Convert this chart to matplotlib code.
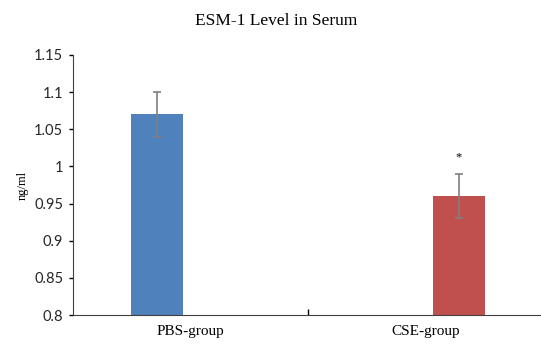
import numpy as np
import matplotlib
matplotlib.use("Agg")
import matplotlib.pyplot as plt

groups = ['PBS-group', 'CSE-group']
levels = [1.07, 0.96]
errors = [0.03, 0.03]
colors = ['#4F81BD', '#C0504D']
yticks = [0.8, 0.85, 0.9, 0.95, 1, 1.05, 1.1, 1.15]
ytick_labels = ['0.8', '0.85', '0.9', '0.95', '1', '1.05', '1.1', '1.15']

fig = plt.figure(figsize=(5.41, 3.47), dpi=100)
ax = fig.add_axes([0.135, 0.092, 0.868, 0.750])

x = np.arange(len(groups))
width = 0.22
offsets = [-0.143, 0.143]
for i in range(len(groups)):
    ax.bar(x[i] + offsets[i], levels[i] - 0.8, width, bottom=0.8, color=colors[i])
    ax.errorbar(x[i] + offsets[i], levels[i], yerr=errors[i], fmt='none',
                ecolor='#7f7f7f', elinewidth=1.2, capsize=3, capthick=1.2)
ax.text(x[1] + offsets[1], levels[1] + errors[1] + 0.022, '*', ha='center', va='center',
        fontsize=9, family='Liberation Serif')

ax.set_xlim(-0.5, 1.5)
ax.set_ylim(0.8, 1.15)
ax.set_yticks(yticks)
ax.set_yticklabels(ytick_labels, family='Lato', fontsize=10.5, color='#262626')
ax.set_xticks(x)
ax.set_xticklabels(groups, family='Liberation Serif', fontsize=11)
ax.tick_params(axis='x', length=0, pad=7)
ax.tick_params(axis='y', length=3, width=1, direction='out', pad=4)
ax.set_xticks([0.5], minor=True)
ax.tick_params(axis='x', which='minor', length=4, width=1, direction='in')

for s in ['top', 'right']:
    ax.spines[s].set_visible(False)
ax.spines['left'].set_color('#404040')
ax.spines['bottom'].set_color('#404040')

ax.set_ylabel('ng/ml', family='Liberation Serif', fontsize=9, labelpad=4)
fig.text(0.51, 0.94, 'ESM-1 Level in Serum', ha='center', va='center',
         family='Liberation Serif', fontsize=12.5)

fig.savefig('out.png', dpi=100)
